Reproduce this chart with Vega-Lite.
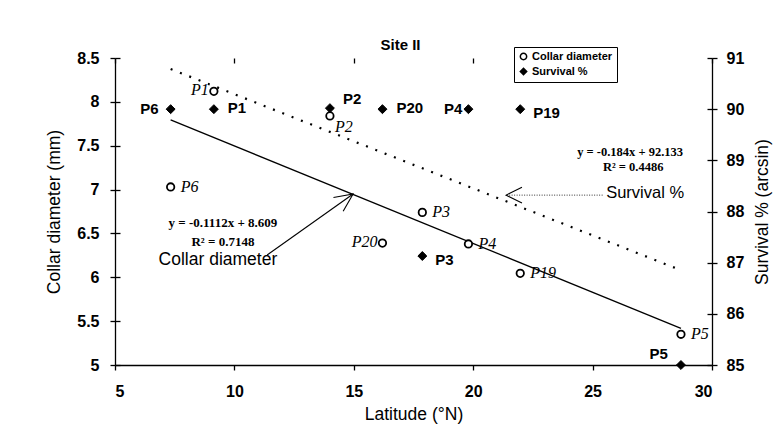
{
  "$schema": "https://vega.github.io/schema/vega-lite/v6.json",
  "width": 597,
  "height": 307,
  "autosize": {"type": "none"},
  "padding": {"left": 115, "top": 58, "right": 70, "bottom": 76},
  "background": "white",
  "config": {
    "view": {"stroke": null},
    "font": "Liberation Sans",
    "axis": {
      "grid": false,
      "domainColor": "black",
      "tickColor": "black",
      "labelColor": "black",
      "titleColor": "black",
      "labelFont": "Liberation Sans",
      "titleFont": "Liberation Sans",
      "labelFontWeight": "bold",
      "labelFontSize": 16,
      "titleFontSize": 17.5,
      "titleFontWeight": "normal",
      "tickSize": 5,
      "domainWidth": 1.3,
      "tickWidth": 1.3
    },
    "legend": {
      "title": null,
      "orient": "none",
      "legendX": 399,
      "legendY": -11,
      "strokeColor": "black",
      "fillColor": "white",
      "padding": 4,
      "labelFont": "Liberation Sans",
      "labelFontSize": 11,
      "labelFontWeight": "bold",
      "labelColor": "black",
      "symbolSize": 40,
      "symbolStrokeColor": "black",
      "symbolStrokeWidth": 1.5,
      "rowPadding": 2,
      "labelOffset": 3
    }
  },
  "title": {
    "text": "Site II",
    "font": "Liberation Sans",
    "fontSize": 15,
    "fontWeight": "bold",
    "color": "black",
    "frame": "group",
    "anchor": "middle",
    "dx": -13,
    "dy": 13,
    "offset": 7
  },
  "datasets": {
    "collarPts": [
      {"site": "P1", "lat": 9.14, "cd": 8.12, "series": "Collar diameter"},
      {"site": "P2", "lat": 14.0, "cd": 7.84, "series": "Collar diameter"},
      {"site": "P6", "lat": 7.33, "cd": 7.03, "series": "Collar diameter"},
      {"site": "P20", "lat": 16.2, "cd": 6.39, "series": "Collar diameter"},
      {"site": "P3", "lat": 17.87, "cd": 6.74, "series": "Collar diameter"},
      {"site": "P4", "lat": 19.8, "cd": 6.38, "series": "Collar diameter"},
      {"site": "P19", "lat": 21.97, "cd": 6.045, "series": "Collar diameter"},
      {"site": "P5", "lat": 28.7, "cd": 5.35, "series": "Collar diameter"}
    ],
    "survPts": [
      {"site": "P6", "lat": 7.33, "sv": 90.0, "series": "Survival %"},
      {"site": "P1", "lat": 9.14, "sv": 90.0, "series": "Survival %"},
      {"site": "P2", "lat": 14.0, "sv": 90.02, "series": "Survival %"},
      {"site": "P20", "lat": 16.2, "sv": 90.0, "series": "Survival %"},
      {"site": "P4", "lat": 19.8, "sv": 90.0, "series": "Survival %"},
      {"site": "P19", "lat": 21.97, "sv": 90.0, "series": "Survival %"},
      {"site": "P3", "lat": 17.87, "sv": 87.13, "series": "Survival %"},
      {"site": "P5", "lat": 28.7, "sv": 85.0, "series": "Survival %"}
    ],
    "collarTrend": [
      {"lat": 7.33, "cd": 7.794},
      {"lat": 28.7, "cd": 5.418}
    ],
    "survTrend": [
      {"lat": 7.33, "sv": 90.784},
      {"lat": 28.7, "sv": 86.852}
    ],
    "collarArrow": [
      {"lat": 11.37, "cd": 6.254},
      {"lat": 14.97, "cd": 6.949}
    ],
    "collarHead": [
      {"lat": 14.97, "cd": 6.949}
    ],
    "survArrow": [
      {"lat": 25.44, "sv": 88.32},
      {"lat": 21.4, "sv": 88.32}
    ],
    "survHead": [
      {"lat": 21.38, "sv": 88.32}
    ],
    "collarEq": [
      {"lat": 9.52, "cd": 6.62, "note": "y = -0.1112x + 8.609"},
      {"lat": 9.52, "cd": 6.40, "note": "R² = 0.7148"}
    ],
    "collarName": [
      {"lat": 9.31, "cd": 6.20, "note": "Collar diameter"}
    ],
    "survEq": [
      {"lat": 26.57, "sv": 89.17, "note": "y = -0.184x + 92.133"},
      {"lat": 26.7, "sv": 88.87, "note": "R² = 0.4486"}
    ],
    "survName": [
      {"lat": 27.2, "sv": 88.36, "note": "Survival %"}
    ]
  },
  "layer": [
    {
      "encoding": {
        "x": {
          "field": "lat",
          "type": "quantitative",
          "scale": {"domain": [5, 30], "nice": false, "zero": false},
          "axis": {"title": "Latitude (°N)", "values": [5, 10, 15, 20, 25, 30], "labelPadding": 13, "titlePadding": 6}
        },
        "y": {
          "field": "cd",
          "type": "quantitative",
          "scale": {"domain": [5, 8.5], "nice": false, "zero": false},
          "axis": {"title": "Collar diameter (mm)", "format": "~g", "values": [5, 5.5, 6, 6.5, 7, 7.5, 8, 8.5], "labelPadding": 11, "titlePadding": 13}
        }
      },
      "layer": [
        {"data": {"name": "collarTrend"}, "mark": {"type": "line", "color": "black", "strokeWidth": 1.3}},
        {"data": {"name": "collarArrow"}, "mark": {"type": "line", "color": "black", "strokeWidth": 1.1}},
        {"data": {"name": "collarHead"}, "mark": {"type": "point", "shape": "M-1,-0.47L0,0L-1,0.47", "size": 1300, "filled": false, "stroke": "black", "strokeWidth": 1.1, "angle": 325, "opacity": 1}},
        {
          "data": {"name": "collarPts"},
          "mark": {"type": "point", "filled": true, "size": 55, "strokeWidth": 1.8, "opacity": 1},
          "encoding": {
            "shape": {"field": "series", "type": "nominal", "scale": {"domain": ["Collar diameter", "Survival %"], "range": ["circle", "diamond"]}},
            "fill": {"field": "series", "type": "nominal", "scale": {"domain": ["Collar diameter", "Survival %"], "range": ["white", "black"]}},
            "stroke": {"field": "series", "type": "nominal", "scale": {"domain": ["Collar diameter", "Survival %"], "range": ["black", "black"]}}
          }
        },
        {
          "data": {"name": "collarPts"},
          "transform": [{"filter": {"field": "site", "oneOf": ["P6", "P3", "P4", "P19", "P5"]}}],
          "mark": {"type": "text", "font": "Liberation Serif", "fontStyle": "italic", "fontSize": 16, "align": "left", "baseline": "middle", "dx": 10, "color": "black"},
          "encoding": {"text": {"field": "site"}}
        },
        {
          "data": {"name": "collarPts"},
          "transform": [{"filter": {"field": "site", "oneOf": ["P1", "P20"]}}],
          "mark": {"type": "text", "font": "Liberation Serif", "fontStyle": "italic", "fontSize": 16, "align": "right", "baseline": "middle", "dx": -5, "dy": -1, "color": "black"},
          "encoding": {"text": {"field": "site"}}
        },
        {
          "data": {"name": "collarPts"},
          "transform": [{"filter": {"field": "site", "equal": "P2"}}],
          "mark": {"type": "text", "font": "Liberation Serif", "fontStyle": "italic", "fontSize": 16, "align": "left", "baseline": "middle", "dx": 5, "dy": 11, "color": "black"},
          "encoding": {"text": {"field": "site"}}
        },
        {
          "data": {"name": "collarEq"},
          "mark": {"type": "text", "font": "Liberation Serif", "fontWeight": "bold", "fontSize": 13, "align": "center", "baseline": "middle", "color": "black"},
          "encoding": {"text": {"field": "note"}}
        },
        {
          "data": {"name": "collarName"},
          "mark": {"type": "text", "font": "Liberation Sans", "fontSize": 17.5, "align": "center", "baseline": "middle", "color": "black"},
          "encoding": {"text": {"field": "note"}}
        }
      ]
    },
    {
      "encoding": {
        "x": {
          "field": "lat",
          "type": "quantitative",
          "scale": {"domain": [5, 30], "nice": false, "zero": false},
          "axis": null
        },
        "y": {
          "field": "sv",
          "type": "quantitative",
          "scale": {"domain": [85, 91], "nice": false, "zero": false},
          "axis": {"orient": "right", "title": "Survival % (arcsin)", "titleAngle": 270, "titleBaseline": "top", "values": [85, 86, 87, 88, 89, 90, 91], "labelPadding": 9, "titlePadding": 10}
        }
      },
      "layer": [
        {"data": {"name": "survTrend"}, "mark": {"type": "line", "color": "black", "strokeWidth": 2.2, "strokeDash": [2, 8]}},
        {"data": {"name": "survArrow"}, "mark": {"type": "line", "color": "#333333", "strokeWidth": 1, "strokeDash": [1, 1.5]}},
        {"data": {"name": "survHead"}, "mark": {"type": "point", "shape": "M-1,-0.5L0,0L-1,0.5", "size": 1000, "filled": false, "stroke": "black", "strokeWidth": 1.1, "angle": 180, "opacity": 1}},
        {
          "data": {"name": "survPts"},
          "mark": {"type": "point", "filled": true, "size": 80, "strokeWidth": 1, "opacity": 1},
          "encoding": {
            "shape": {"field": "series", "type": "nominal", "scale": {"domain": ["Collar diameter", "Survival %"], "range": ["circle", "diamond"]}},
            "fill": {"field": "series", "type": "nominal", "scale": {"domain": ["Collar diameter", "Survival %"], "range": ["white", "black"]}},
            "stroke": {"field": "series", "type": "nominal", "scale": {"domain": ["Collar diameter", "Survival %"], "range": ["black", "black"]}}
          }
        },
        {
          "data": {"name": "survPts"},
          "transform": [{"filter": {"field": "site", "oneOf": ["P1", "P20"]}}],
          "mark": {"type": "text", "font": "Liberation Sans", "fontWeight": "bold", "fontSize": 15, "align": "left", "baseline": "middle", "dx": 14, "dy": -1, "color": "black"},
          "encoding": {"text": {"field": "site"}}
        },
        {
          "data": {"name": "survPts"},
          "transform": [{"filter": {"field": "site", "oneOf": ["P19", "P3"]}}],
          "mark": {"type": "text", "font": "Liberation Sans", "fontWeight": "bold", "fontSize": 15, "align": "left", "baseline": "middle", "dx": 13, "dy": 4, "color": "black"},
          "encoding": {"text": {"field": "site"}}
        },
        {
          "data": {"name": "survPts"},
          "transform": [{"filter": {"field": "site", "equal": "P2"}}],
          "mark": {"type": "text", "font": "Liberation Sans", "fontWeight": "bold", "fontSize": 15, "align": "left", "baseline": "middle", "dx": 13, "dy": -9, "color": "black"},
          "encoding": {"text": {"field": "site"}}
        },
        {
          "data": {"name": "survPts"},
          "transform": [{"filter": {"field": "site", "equal": "P6"}}],
          "mark": {"type": "text", "font": "Liberation Sans", "fontWeight": "bold", "fontSize": 15, "align": "right", "baseline": "middle", "dx": -12, "color": "black"},
          "encoding": {"text": {"field": "site"}}
        },
        {
          "data": {"name": "survPts"},
          "transform": [{"filter": {"field": "site", "equal": "P4"}}],
          "mark": {"type": "text", "font": "Liberation Sans", "fontWeight": "bold", "fontSize": 15, "align": "right", "baseline": "middle", "dx": -6, "color": "black"},
          "encoding": {"text": {"field": "site"}}
        },
        {
          "data": {"name": "survPts"},
          "transform": [{"filter": {"field": "site", "equal": "P5"}}],
          "mark": {"type": "text", "font": "Liberation Sans", "fontWeight": "bold", "fontSize": 15, "align": "right", "baseline": "middle", "dx": -13, "dy": -11, "color": "black"},
          "encoding": {"text": {"field": "site"}}
        },
        {
          "data": {"name": "survEq"},
          "mark": {"type": "text", "font": "Liberation Serif", "fontWeight": "bold", "fontSize": 12.5, "align": "center", "baseline": "middle", "color": "black"},
          "encoding": {"text": {"field": "note"}}
        },
        {
          "data": {"name": "survName"},
          "mark": {"type": "text", "font": "Liberation Sans", "fontSize": 16.5, "align": "center", "baseline": "middle", "color": "black"},
          "encoding": {"text": {"field": "note"}}
        }
      ]
    },
    {
      "data": {"name": "collarTrend"},
      "mark": {"type": "line", "opacity": 0},
      "encoding": {
        "x": {"field": "lat", "type": "quantitative", "scale": {"domain": [5, 30], "nice": false, "zero": false},
          "axis": {"title": null, "labels": false, "domain": false, "tickSize": -5, "values": [5, 10, 15, 20, 25, 30]}},
        "y": {"field": "cd", "type": "quantitative", "scale": {"domain": [5, 8.5], "nice": false, "zero": false},
          "axis": {"title": null, "labels": false, "domain": false, "tickSize": -5, "values": [5, 5.5, 6, 6.5, 7, 7.5, 8, 8.5]}}
      }
    },
    {
      "data": {"name": "survTrend"},
      "mark": {"type": "line", "opacity": 0},
      "encoding": {
        "x": {"field": "lat", "type": "quantitative", "scale": {"domain": [5, 30], "nice": false, "zero": false}, "axis": null},
        "y": {"field": "sv", "type": "quantitative", "scale": {"domain": [85, 91], "nice": false, "zero": false},
          "axis": {"orient": "right", "title": null, "labels": false, "domain": false, "tickSize": -5, "values": [85, 86, 87, 88, 89, 90, 91]}}
      }
    }
  ],
  "resolve": {"scale": {"y": "independent"}, "axis": {"x": "independent"}}
}
